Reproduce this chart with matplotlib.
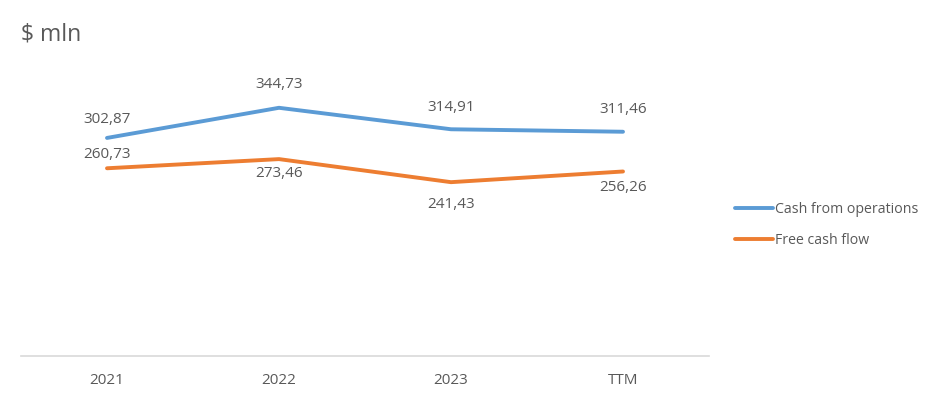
import matplotlib.pyplot as plt

# Données
categories = ["2021", "2022", "2023", "TTM"]
cash_ops = [302.87, 344.73, 314.91, 311.46]
free_cf = [260.73, 273.46, 241.43, 256.26]

# décalage vertical des étiquettes (en pixels, positif = au-dessus)
cash_ops_off = [18, 23, 22, 22]
free_cf_off = [14, -14, -22, -16]

plt.rcParams['font.family'] = ['Open Sans', 'DejaVu Sans']
gris = "#595959"

fig = plt.figure(figsize=(9.41, 4.01), dpi=100)
ax = fig.add_axes([21 / 941, 45 / 401, 688 / 941, 288 / 401])

x = range(len(categories))
ax.plot(x, cash_ops, color="#5B9BD5", lw=2.8, solid_capstyle="round", label="Cash from operations")
ax.plot(x, free_cf, color="#ED7D31", lw=2.8, solid_capstyle="round", label="Free cash flow")

def fmt(v):
    return f"{v:.2f}".replace(".", ",")

px = 72 / 100  # pixels -> points
for serie, offs in [(cash_ops, cash_ops_off), (free_cf, free_cf_off)]:
    for i, v in enumerate(serie):
        ax.annotate(fmt(v), (i, v), xytext=(0, offs[i] * px), textcoords="offset points",
                    ha="center", va="center", fontsize=11, color=gris)

ax.set_xlim(-0.5, 3.5)
ax.set_ylim(0, 400)
ax.set_xticks(list(x))
ax.set_xticklabels(categories, fontsize=11, color=gris)
ax.set_yticks([])
ax.tick_params(axis="x", length=0, pad=12)
for s in ["top", "right", "left"]:
    ax.spines[s].set_visible(False)
ax.spines["bottom"].set_color("#D9D9D9")
ax.spines["bottom"].set_linewidth(1.2)

fig.text(21 / 941, 1 - 34 / 401, "$ mln", fontsize=16.5, color=gris, va="center", ha="left")

leg = fig.legend(loc="center left", bbox_to_anchor=(722 / 941, 1 - 225 / 401), frameon=False,
                 fontsize=10.2, handlelength=2.7, handletextpad=0.15, labelspacing=1.15)
for t in leg.get_texts():
    t.set_color(gris)

fig.savefig("out.png", dpi=100)
